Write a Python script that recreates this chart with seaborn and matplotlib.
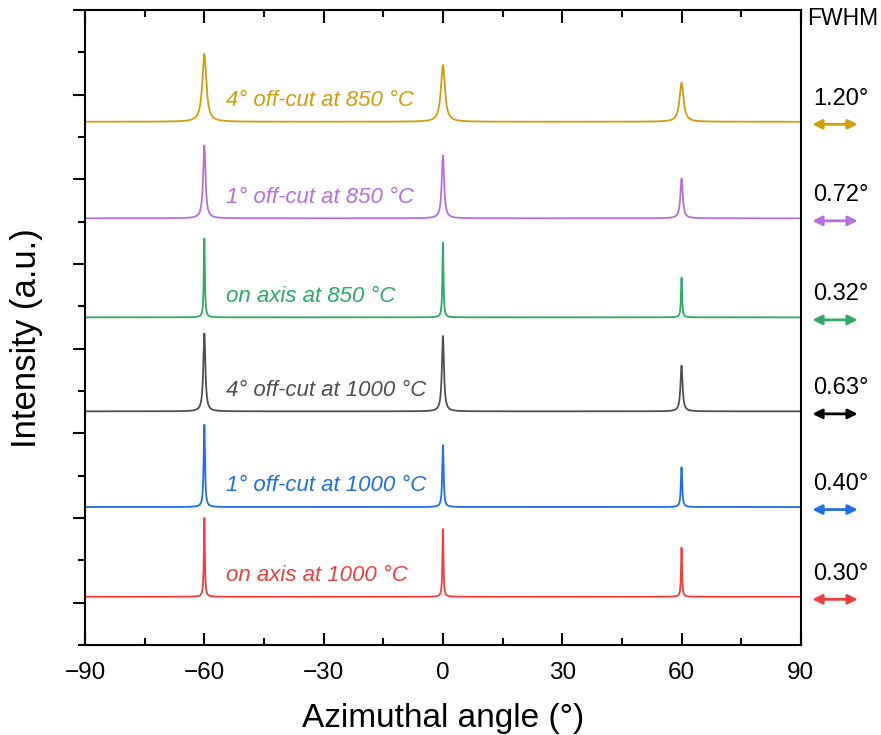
import numpy as np
import pandas as pd
import matplotlib
matplotlib.use("Agg")
import matplotlib.pyplot as plt
import seaborn as sns
from matplotlib.ticker import MultipleLocator

# ---------------- data ----------------
labels = ["on axis at 1000 °C", "1° off-cut at 1000 °C", "4° off-cut at 1000 °C",
          "on axis at 850 °C", "1° off-cut at 850 °C", "4° off-cut at 850 °C"]
fwhm_text = ["0.30°", "0.40°", "0.63°", "0.32°", "0.72°", "1.20°"]
fwhm_deg = [0.30, 0.40, 0.63, 0.32, 0.72, 1.20]
baselines = [0.07, 1.13, 2.26, 3.37, 4.54, 5.68]       # vertical offset of each scan (a.u.)
peak_pos = [-60.0, 0.0, 60.0]                            # azimuthal peak positions (°)
peak_h_on1000 = [0.93, 0.80, 0.58]
peak_h_1off1000 = [0.97, 0.73, 0.47]
peak_h_4off1000 = [0.92, 0.89, 0.54]
peak_h_on850 = [0.93, 0.88, 0.47]
peak_h_1off850 = [0.86, 0.74, 0.47]
peak_h_4off850 = [0.80, 0.67, 0.46]
peak_heights = [peak_h_on1000, peak_h_1off1000, peak_h_4off1000,
                peak_h_on850, peak_h_1off850, peak_h_4off850]
xticks = [-90, -60, -30, 0, 30, 60, 90]

colors = ["#F03E3E", "#1F6FE0", "#4F4F4F", "#2EAA68", "#B66FE0", "#D09E08"]
arrow_colors = ["#F03E3E", "#1F6FE0", "#000000", "#2EAA68", "#B66FE0", "#D09E08"]

# ---------------- build profiles (Lorentzian peaks with measured FWHM) ----------------
phi = np.linspace(-90, 90, 9001)
frames = []
for lab, base, hs, w in zip(labels, baselines, peak_heights, fwhm_deg):
    y = np.full_like(phi, base)
    for p, h in zip(peak_pos, hs):
        y = y + h / (1.0 + ((phi - p) / (w / 2.0)) ** 2)
    frames.append(pd.DataFrame({"phi": phi, "I": y, "sample": lab}))
df = pd.concat(frames, ignore_index=True)

# ---------------- figure ----------------
sns.set_theme(style="ticks")
plt.rcParams["font.family"] = ["Liberation Sans", "DejaVu Sans"]
plt.rcParams["axes.unicode_minus"] = True
plt.rcParams["text.color"] = "black"
plt.rcParams["axes.labelcolor"] = "black"
plt.rcParams["xtick.color"] = "black"
plt.rcParams["ytick.color"] = "black"

fig = plt.figure(figsize=(8.81, 7.35), dpi=100)
ax = fig.add_axes([0.0965, 0.1224, 0.8125, 0.864])

sns.lineplot(data=df, x="phi", y="I", hue="sample", hue_order=labels,
             palette=colors, estimator=None, sort=False, linewidth=1.3,
             legend=False, ax=ax)

ax.set_xlim(-90, 90)
ax.set_ylim(-0.5, 7.0)
ax.set_xticks(xticks)
ax.xaxis.set_minor_locator(MultipleLocator(15))
ax.yaxis.set_major_locator(MultipleLocator(1))
ax.yaxis.set_minor_locator(MultipleLocator(0.5))

for s in ax.spines.values():
    s.set_linewidth(1.5)
    s.set_color("black")

ax.tick_params(axis="x", which="both", direction="in", top=True, bottom=True,
               width=1.5, color="black", labelcolor="black", labelsize=17.5, pad=12)
ax.tick_params(axis="x", which="major", length=9)
ax.tick_params(axis="x", which="minor", length=5)
ax.tick_params(axis="y", which="both", direction="out", left=True, right=False,
               labelleft=False, width=1.5, color="black")
ax.tick_params(axis="y", which="major", length=9)
ax.tick_params(axis="y", which="minor", length=5)

ax.set_xlabel("Azimuthal angle (°)", fontsize=24, color="black")
ax.set_ylabel("Intensity (a.u.)", fontsize=25, color="black")
ax.xaxis.set_label_coords(0.5, -0.092)
ax.yaxis.set_label_coords(-0.058, 0.483)

# sample labels
for lab, base, c in zip(labels, baselines, colors):
    ax.text(-54.6, base + 0.25, lab, color=c, fontsize=16, style="italic",
            ha="left", va="center")

# FWHM column on the right
ax.text(100.5, 6.90, "FWHM", fontsize=16.5, ha="center", va="center",
        color="black", clip_on=False)
for t, base, c in zip(fwhm_text, baselines, arrow_colors):
    ax.text(100.0, base + 0.27, t, fontsize=17, ha="center", va="center",
            color="black", clip_on=False)
    ax.annotate("", xy=(104.3, base - 0.03), xytext=(92.9, base - 0.03),
                xycoords="data", textcoords="data", annotation_clip=False,
                arrowprops=dict(arrowstyle="<|-|>", color=c, lw=2,
                                mutation_scale=14, shrinkA=0, shrinkB=0))

fig.savefig("out.png", dpi=100)
